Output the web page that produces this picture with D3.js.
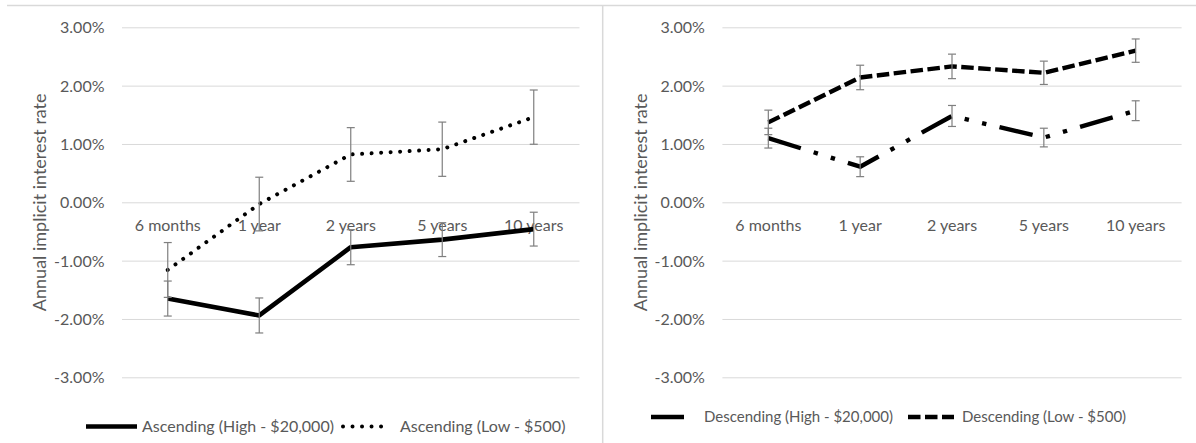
<!DOCTYPE html>
<html>
<head>
<meta charset="utf-8">
<script src="https://cdn.jsdelivr.net/npm/d3@7/dist/d3.min.js"></script>
<style>
  html, body { margin: 0; padding: 0; background: #fff; }
  svg { display: block; }
  text { font-family: Lato, "Open Sans", sans-serif; fill: #595959; }
</style>
</head>
<body>
<svg id="chart" width="1196" height="443"></svg>
<script>
// ---- data ----
const categories = ["6 months", "1 year", "2 years", "5 years", "10 years"];
const yTicks = [-3, -2, -1, 0, 1, 2, 3];

const ascHigh = [-1.65, -1.94, -0.77, -0.64, -0.46];
const ascHighErr = [0.30, 0.30, 0.30, 0.29, 0.29];
const ascLow = [-1.16, -0.03, 0.82, 0.91, 1.46];
const ascLowErr = [0.47, 0.46, 0.46, 0.465, 0.465];

const descHigh = [1.10, 0.61, 1.48, 1.11, 1.57];
const descHighErr = [0.17, 0.17, 0.18, 0.16, 0.17];
const descLow = [1.37, 2.14, 2.33, 2.22, 2.60];
const descLowErr = [0.21, 0.21, 0.21, 0.20, 0.20];

const leftNames = ["Ascending (High - $20,000)", "Ascending (Low - $500)"];
const rightNames = ["Descending (High - $20,000)", "Descending (Low - $500)"];
const yTitle = "Annual implicit interest rate";

// ---- styles ----
const styles = {
  solid:   { width: 4.6, dash: null, cap: "butt" },
  dotted:  { width: 4.0, dash: "0.01,9.5", cap: "round" },
  dashed:  { width: 4.4, dash: "12.5,4.5", cap: "butt" },
  dashdot: { width: 4.4, dash: "34,13.5,4.4,13.5,4.4,13.5", cap: "butt" }
};

const svg = d3.select("#chart");
const gridColor = "#d9d9d9";
const fontSize = 16;
const titleSize = 18;

// frame lines
svg.append("line").attr("x1", 7).attr("x2", 1196).attr("y1", 5.5).attr("y2", 5.5)
  .attr("stroke", gridColor).attr("stroke-width", 1.5);
svg.append("line").attr("x1", 602.7).attr("x2", 602.7).attr("y1", 5).attr("y2", 443)
  .attr("stroke", gridColor).attr("stroke-width", 1.5);

function panel(opts) {
  const g = svg.append("g");
  const x = d3.scaleBand().domain(categories).range([opts.x0, opts.x1]).padding(0);
  const y = d3.scaleLinear().domain([-3, 3]).range([377.3, 27.3]);
  const w = opts.x1 - opts.x0;

  // y axis with gridlines
  const ya = g.append("g").attr("transform", `translate(${opts.x0},0)`)
    .call(d3.axisLeft(y).tickValues(yTicks).tickSize(-w).tickPadding(17.5)
      .tickFormat(d => d.toFixed(2) + "%"));
  ya.attr("font-family", null).attr("font-size", null);
  ya.select(".domain").remove();
  ya.selectAll(".tick line").attr("stroke", gridColor).attr("stroke-width", 1);
  ya.selectAll(".tick text").attr("font-size", fontSize).attr("fill", "#595959")
    .attr("dy", "0.35em");

  // category labels
  const xa = g.append("g").attr("transform", `translate(0,${y(0)})`)
    .call(d3.axisBottom(x).tickSize(0).tickPadding(0));
  xa.attr("font-family", null).attr("font-size", null);
  xa.select(".domain").remove();
  xa.selectAll(".tick text").attr("font-size", fontSize).attr("fill", "#595959")
    .attr("y", 23).attr("dy", "0.35em");

  // y title
  g.append("text")
    .attr("transform", `translate(${opts.titleX},${(y(3) + y(-3)) / 2}) rotate(-90)`)
    .attr("text-anchor", "middle").attr("dy", "0.35em")
    .attr("font-size", titleSize).text(yTitle);

  const cx = d => x(d) + x.bandwidth() / 2;
  const line = d3.line().x((d, i) => cx(categories[i])).y(d => y(d));

  opts.series.forEach(s => {
    const st = styles[s.style];
    g.append("path").datum(s.values)
      .attr("d", line).attr("fill", "none").attr("stroke", "#000")
      .attr("stroke-width", st.width)
      .attr("stroke-dasharray", st.dash)
      .attr("stroke-linecap", st.cap)
      .attr("stroke-linejoin", "round");
  });

  // error bars
  opts.series.forEach(s => {
    s.values.forEach((v, i) => {
      const xc = cx(categories[i]);
      const e = s.err[i];
      const eg = g.append("g").attr("stroke", "#7f7f7f").attr("stroke-width", 1.2);
      eg.append("line").attr("x1", xc).attr("x2", xc).attr("y1", y(v + e)).attr("y2", y(v - e));
      eg.append("line").attr("x1", xc - 4).attr("x2", xc + 4).attr("y1", y(v + e)).attr("y2", y(v + e));
      eg.append("line").attr("x1", xc - 4).attr("x2", xc + 4).attr("y1", y(v - e)).attr("y2", y(v - e));
    });
  });

  // legend
  opts.legend.forEach(l => {
    const st = styles[l.style];
    g.append("line").attr("x1", l.sx0).attr("x2", l.sx1)
      .attr("y1", opts.legendY).attr("y2", opts.legendY)
      .attr("stroke", "#000").attr("stroke-width", st.width)
      .attr("stroke-dasharray", st.dash).attr("stroke-linecap", st.cap);
    g.append("text").attr("x", l.tx).attr("y", opts.legendY).attr("dy", "0.35em")
      .attr("font-size", opts.legendSize).text(l.name);
  });
}

panel({
  x0: 122, x1: 579.5, titleX: 40, legendY: 426.5, legendSize: 16,
  series: [
    { values: ascHigh, err: ascHighErr, style: "solid" },
    { values: ascLow, err: ascLowErr, style: "dotted" }
  ],
  legend: [
    { name: leftNames[0], style: "solid", sx0: 86, sx1: 137, tx: 142 },
    { name: leftNames[1], style: "dotted", sx0: 343, sx1: 390, tx: 400 }
  ]
});

panel({
  x0: 722.4, x1: 1181.6, titleX: 641, legendY: 417, legendSize: 15,
  series: [
    { values: descHigh, err: descHighErr, style: "dashdot" },
    { values: descLow, err: descLowErr, style: "dashed" }
  ],
  legend: [
    { name: rightNames[0], style: "dashdot", sx0: 651, sx1: 684, tx: 704 },
    { name: rightNames[1], style: "dashed", sx0: 908, sx1: 954, tx: 962 }
  ]
});
</script>
</body>
</html>
